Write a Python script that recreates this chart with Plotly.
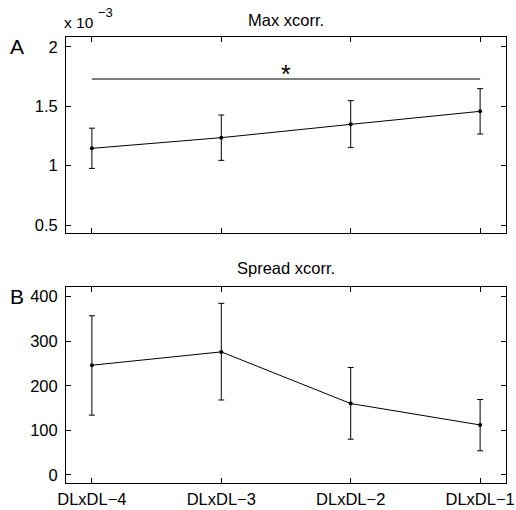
import plotly.graph_objects as go

categories = ["DLxDL\u22124", "DLxDL\u22123", "DLxDL\u22122", "DLxDL\u22121"]
xpos = [1, 2, 3, 4]

# Panel A: Max xcorr (units of 1e-3)
max_mean = [1.146, 1.236, 1.348, 1.458]
max_hi = [1.316, 1.427, 1.548, 1.649]
max_lo = [0.977, 1.045, 1.152, 1.267]
sig_level = 1.73

# Panel B: Spread xcorr
spr_mean = [246, 276, 160, 112]
spr_hi = [357, 385, 241, 169]
spr_lo = [134, 168, 80, 54]

FONT = "Liberation Sans, Arial, sans-serif"
FS = 16.5

fig = go.Figure()

def add_series(mean, hi, lo, xa, ya):
    fig.add_trace(go.Scatter(
        x=xpos, y=mean, mode="lines+markers",
        line=dict(color="black", width=1),
        marker=dict(color="black", size=4),
        error_y=dict(type="data", symmetric=False,
                     array=[h - m for h, m in zip(hi, mean)],
                     arrayminus=[m - l for m, l in zip(mean, lo)],
                     color="black", thickness=1, width=3),
        xaxis=xa, yaxis=ya, showlegend=False, hoverinfo="skip"))

add_series(max_mean, max_hi, max_lo, "x", "y")
add_series(spr_mean, spr_hi, spr_lo, "x2", "y2")

xdom = [66/516, 506/516]
axcommon = dict(showline=True, linecolor="black", linewidth=1, mirror="ticks",
                ticks="inside", ticklen=5, tickcolor="black", showgrid=False,
                zeroline=False, automargin=False,
                tickfont=dict(family=FONT, size=FS, color="black"))

fig.update_layout(
    width=516, height=510, margin=dict(l=0, r=0, t=0, b=0, autoexpand=False),
    paper_bgcolor="white", plot_bgcolor="white",
    font=dict(family=FONT, color="black"),
    xaxis=dict(domain=xdom, range=[0.8, 4.2], tickvals=xpos, ticktext=[""]*4,
               anchor="y", **axcommon),
    yaxis=dict(domain=[1-233/510, 1-37/510], range=[0.433, 2.084],
               tickvals=[0.5, 1, 1.5, 2], ticktext=["0.5", "1", "1.5", "2"],
               anchor="x", ticklabelstandoff=4, **axcommon),
    xaxis2=dict(domain=xdom, range=[0.8, 4.2], tickvals=xpos, ticktext=categories,
                anchor="y2", ticklabelstandoff=1, **axcommon),
    yaxis2=dict(domain=[1-483.3/510, 1-287.3/510], range=[-19, 421],
                tickvals=[0, 100, 200, 300, 400], anchor="x2",
                ticklabelstandoff=4, **axcommon),
)

# significance bar
fig.add_shape(type="line", xref="x", yref="y", x0=xpos[0], x1=xpos[-1],
              y0=sig_level, y1=sig_level, line=dict(color="black", width=1))
fig.add_annotation(xref="x", yref="y", x=(xpos[0]+xpos[-1])/2, y=sig_level,
                   text="*", showarrow=False, yanchor="bottom", yshift=-11,
                   font=dict(family=FONT, size=25, color="black"))

# titles and labels
fig.add_annotation(xref="paper", yref="paper", x=286/516, y=1-20/510,
                   xanchor="center", yanchor="middle",
                   text="Max xcorr.", showarrow=False,
                   font=dict(family=FONT, size=FS, color="black"))
fig.add_annotation(xref="paper", yref="paper", x=286/516, y=1-268/510,
                   xanchor="center", yanchor="middle",
                   text="Spread xcorr.", showarrow=False,
                   font=dict(family=FONT, size=FS, color="black"))
fig.add_annotation(xref="paper", yref="paper", x=17/516, y=1-46/510,
                   xanchor="center", yanchor="middle",
                   text="A", showarrow=False,
                   font=dict(family=FONT, size=21, color="black"))
fig.add_annotation(xref="paper", yref="paper", x=17/516, y=1-296/510,
                   xanchor="center", yanchor="middle",
                   text="B", showarrow=False,
                   font=dict(family=FONT, size=21, color="black"))
fig.add_annotation(xref="paper", yref="paper", x=62/516, y=1-23/510,
                   xanchor="left", yanchor="middle",
                   text="x 10", showarrow=False,
                   font=dict(family=FONT, size=15.5, color="black"))
fig.add_annotation(xref="paper", yref="paper", x=96/516, y=1-12/510,
                   xanchor="left", yanchor="middle",
                   text="\u22123", showarrow=False,
                   font=dict(family=FONT, size=13, color="black"))

fig.write_html("out.html")
